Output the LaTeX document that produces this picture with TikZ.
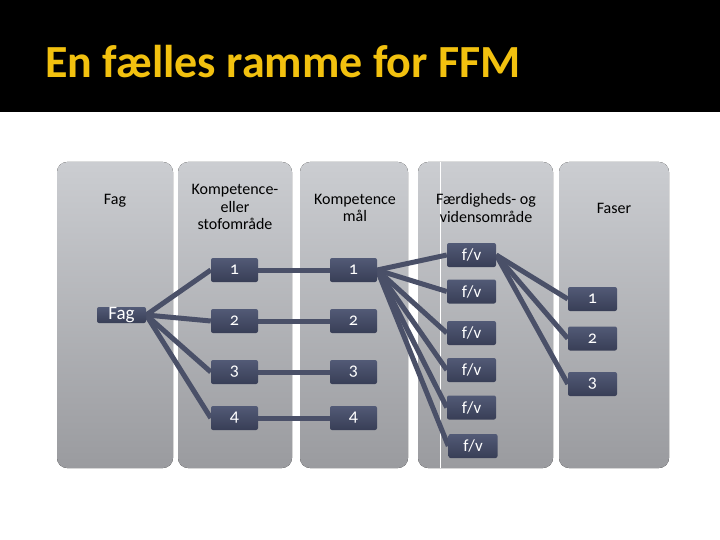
\documentclass[tikz,border=0pt]{standalone}
\usepackage{fontspec}
\setmainfont{Carlito}[Numbers=OldStyle]
\usetikzlibrary{backgrounds}
\definecolor{titel}{RGB}{242,193,15}
\definecolor{koltop}{RGB}{203,205,209}
\definecolor{kolbund}{RGB}{154,155,159}
\definecolor{boxtop}{RGB}{82,90,118}
\definecolor{boxbund}{RGB}{56,62,86}
\definecolor{streg}{RGB}{74,80,104}

\tikzset{
  kolonne/.style={rounded corners=10pt, top color=koltop, bottom color=kolbund},
  boks/.style={rounded corners=2pt, top color=boxtop, bottom color=boxbund, text=white,
    minimum width=47pt, minimum height=24pt, inner sep=0pt, font=\fontsize{18}{18}\selectfont},
  fvboks/.style={boks, minimum width=49pt, font=\fontsize{17}{17}\selectfont},
  hoved/.style={align=center, inner sep=0pt, font=\fontsize{16}{17.5}\selectfont},
  forb/.style={draw=streg, line width=5pt}
}

\begin{document}
\begin{tikzpicture}[x=1pt,y=-1pt]
  \useasboundingbox (0,0) rectangle (720,540);
  \fill[black] (0,0) rectangle (720,112);
  \node[anchor=base west, inner sep=0pt, text=titel, font=\bfseries\fontsize{46}{46}\selectfont] (titel) at (45,78) {En fælles ramme for FFM};

  % kolonner
  \begin{scope}[on background layer]
    \fill[kolonne] (57,162) rectangle (173,468);
    \fill[kolonne] (178,162) rectangle (292,468);
    \fill[kolonne] (300,162) rectangle (408,468);
    \fill[kolonne] (418,162) rectangle (553,468);
    \fill[kolonne] (559,162) rectangle (669,468);
    \draw[white, line width=1pt] (440,162) -- (440,468);
  \end{scope}

  \node[hoved] (h1) at (115,201) {Fag};
  \node[hoved] (h2) at (235,207) {Kompetence-\\eller\\stofområde};
  \node[hoved] (h3) at (355,208) {Kompetence\\mål};
  \node[hoved] (h4) at (486,208) {Færdigheds- og\\vidensområde};
  \node[hoved] (h5) at (614,208) {Faser};

  \node[boks, minimum width=49pt, minimum height=16pt, font=\fontsize{19}{19}\selectfont] (fag) at (121.5,315) {Fag};

  \node[boks] (k1) at (234.5,270) {1};
  \node[boks] (k2) at (234.5,321) {2};
  \node[boks] (k3) at (234.5,372) {3};
  \node[boks] (k4) at (234.5,418) {4};

  \node[boks] (m1) at (353.5,270) {1};
  \node[boks] (m2) at (353.5,321) {2};
  \node[boks] (m3) at (353.5,372) {3};
  \node[boks] (m4) at (353.5,418) {4};

  \node[fvboks] (fv1) at (471.5,255) {f/v};
  \node[fvboks] (fv2) at (471.5,291.5) {f/v};
  \node[fvboks] (fv3) at (471.5,333) {f/v};
  \node[fvboks] (fv4) at (471.5,370) {f/v};
  \node[fvboks] (fv5) at (471.5,407.5) {f/v};
  \node[fvboks] (fv6) at (473,446) {f/v};

  \node[boks, minimum width=49pt] (f1) at (592.5,299) {1};
  \node[boks, minimum width=49pt] (f2) at (592.5,338.5) {2};
  \node[boks, minimum width=49pt] (f3) at (592.5,384) {3};

  % forbindelser
  \begin{scope}[on background layer]
    \draw[forb] (fag.east) edge (k1.west) edge (k2.west) edge (k3.west) edge (k4.west);
    \draw[forb] (k1) -- (m1);
    \draw[forb] (k2) -- (m2);
    \draw[forb] (k3) -- (m3);
    \draw[forb] (k4) -- (m4);
    \draw[forb] (m1.east) edge (fv1.west) edge (fv2.west) edge (fv3.west)
      edge (fv4.west) edge (fv5.west) edge (fv6.west);
    \draw[forb] (fv1.east) edge (f1.west) edge (f2.west) edge (f3.west);
  \end{scope}
\end{tikzpicture}
\end{document}
